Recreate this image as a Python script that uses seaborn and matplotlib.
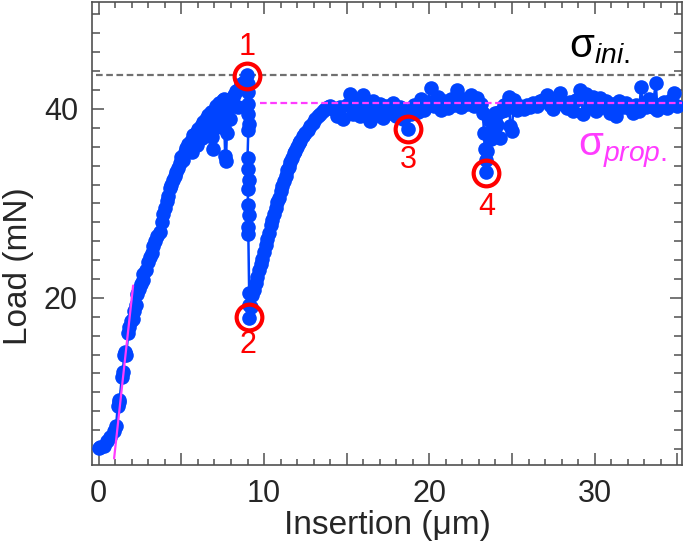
import numpy as np
import pandas as pd
import seaborn as sns
import matplotlib.pyplot as plt
from matplotlib.ticker import MultipleLocator, FuncFormatter

sns.set_style("ticks")
plt.rcParams["font.family"] = ["Liberation Sans", "DejaVu Sans"]
plt.rcParams["mathtext.fontset"] = "custom"
plt.rcParams["mathtext.rm"] = "Liberation Sans"
plt.rcParams["mathtext.it"] = "Liberation Sans:italic"

# loading up to first fracture
rise_x = [0.0, 0.1, 0.3, 0.5, 0.7, 0.9, 1.05, 1.15, 1.2, 1.25, 1.4, 1.45, 1.55, 1.6, 1.65,
          1.8, 1.85, 1.95, 2.05, 2.15, 2.25, 2.3, 2.45, 2.55, 2.65, 2.7, 2.85, 3.0, 3.1, 3.2,
          3.3, 3.4, 3.55, 3.7, 3.8, 3.9, 4.0, 4.1, 4.2, 4.3, 4.4, 4.5, 4.6, 4.7, 4.8, 4.9,
          5.0, 5.1, 5.2, 5.3, 5.4,
          5.5, 5.6, 5.65, 5.7, 5.8, 5.9, 5.95, 6.0, 6.1, 6.2, 6.25, 6.3, 6.4, 6.5, 6.55, 6.6,
          6.7, 6.8, 6.85, 6.9, 6.95, 7.0, 7.1, 7.15, 7.2, 7.3, 7.4, 7.45, 7.5, 7.55, 7.6, 7.65,
          7.7, 7.75, 7.8, 7.9, 7.95, 8.0, 8.1, 8.2, 8.3, 8.4, 8.5, 8.6, 8.7, 8.8, 8.95]
rise_y = [4.1, 4.2, 4.3, 4.8, 5.3, 5.9, 6.4, 8.6, 9.2, 9.0, 11.6, 12.2, 13.9, 14.3, 14.0,
          16.3, 16.9, 17.5, 17.8, 18.6, 19.2, 20.4, 20.9, 21.5, 21.9, 22.5, 22.9, 23.8, 24.3, 24.8,
          25.5, 26.0, 26.6, 27.0, 28.0, 28.9, 29.5, 30.3, 30.8, 31.6, 31.9, 32.5, 32.9, 33.3, 33.7, 34.3,
          34.9, 34.6, 35.4, 35.9, 36.3,
          36.0, 36.6, 35.4, 37.2, 36.8, 37.5, 36.2, 37.9, 37.3, 38.2, 36.9, 38.6, 37.9, 38.9, 37.4, 39.4,
          38.4, 39.7, 37.0, 35.8, 38.5, 39.8, 40.3, 38.1, 39.2, 40.6, 39.8, 38.6, 40.9, 41.1, 38.0, 35.0,
          34.5, 37.5, 40.5, 40.1, 38.9, 41.0, 40.6, 41.5, 41.9, 40.2, 42.1, 42.6, 42.3, 42.9, 43.6]

# load drop at ~9 um
drop_x = [9.0, 9.05, 9.0, 9.05, 9.1, 9.05, 9.0, 9.05, 9.1, 9.05, 9.0, 9.1, 9.05, 9.05, 9.1, 9.1, 9.1]
drop_y = [42.6, 41.8, 40.5, 39.5, 38.4, 37.8, 34.8, 33.6, 32.5, 31.5, 29.8, 28.8, 27.5, 26.8, 20.5, 19.2, 17.9]

# reloading
recover_x = [9.2, 9.3, 9.4, 9.5, 9.6, 9.7, 9.8, 9.9, 10.0, 10.1, 10.2, 10.3, 10.4, 10.5, 10.6,
             10.7, 10.8, 10.9, 11.0, 11.1, 11.2, 11.3, 11.4, 11.5, 11.6, 11.7, 11.8, 11.9, 12.0,
             12.1, 12.2, 12.35, 12.5, 12.65, 12.8, 12.95, 13.1, 13.25, 13.4, 13.55, 13.7, 13.85, 14.0]
recover_y = [19.0, 20.3, 20.8, 21.6, 22.2, 22.9, 23.6, 24.1, 24.9, 25.6, 26.2, 26.9, 27.7, 28.2, 28.9,
             29.5, 30.1, 30.6, 31.3, 31.8, 32.4, 32.9, 33.5, 33.9, 34.4, 34.8, 35.3, 35.6, 36.0,
             36.4, 36.6, 37.1, 37.4, 37.8, 38.2, 38.5, 38.9, 39.2, 39.5, 39.8, 40.0, 40.2, 40.3]

# propagation plateau
plateau_x = [14.2, 14.4, 14.6, 14.8, 15.0, 15.2, 15.4, 15.6, 15.8, 16.0, 16.2, 16.4, 16.6, 16.8,
             17.0, 17.2, 17.4, 17.6, 17.8, 18.0, 18.2, 18.4, 18.6, 18.7, 18.9, 19.1, 19.3, 19.5,
             19.7, 19.9, 20.1, 20.3, 20.5, 20.7, 20.9, 21.1, 21.3, 21.5, 21.7, 21.9, 22.1, 22.3,
             22.5, 22.7, 22.9, 23.1, 23.25, 23.3, 23.35, 23.4, 23.45, 23.5, 23.55, 23.6, 23.7,
             23.8, 23.9, 24.0, 24.1, 24.2, 24.3, 24.4, 24.5, 24.6, 24.7, 24.8, 24.9, 25.0, 25.1,
             25.3, 25.5, 25.7, 25.9, 26.1, 26.3, 26.5, 26.7, 26.9, 27.1, 27.3, 27.5, 27.7, 27.9,
             28.1, 28.3, 28.5, 28.7, 28.9, 29.1, 29.3, 29.5, 29.7, 29.9, 30.1, 30.3, 30.5, 30.7,
             30.9, 31.1, 31.3, 31.5, 31.7, 31.9, 32.1, 32.3, 32.5, 32.7, 32.8, 32.9, 33.1, 33.3,
             33.5, 33.7, 33.8, 34.0, 34.2, 34.4, 34.6, 34.8, 35.0]
plateau_y = [40.0, 39.3, 40.2, 38.9, 40.4, 41.6, 39.5, 40.6, 39.2, 41.5, 40.1, 38.7, 40.8, 39.4,
             40.5, 39.0, 40.3, 39.6, 40.6, 39.2, 40.2, 38.9, 39.8, 37.9, 39.5, 40.4, 39.7, 41.0,
             39.9, 40.7, 42.2, 40.3, 41.3, 39.9, 40.8, 40.1, 41.0, 40.4, 42.0, 40.2, 41.1, 40.5,
             41.5, 40.3, 41.2, 40.5, 39.6, 37.5, 35.8, 34.6, 33.3, 35.5, 37.2, 38.8, 36.8,
             38.9, 37.6, 39.6, 38.3, 39.7, 36.9, 39.8, 40.4, 39.9, 40.3, 41.3, 38.2, 37.7, 40.9,
             39.9, 40.3, 40.0, 40.4, 40.2, 40.6, 40.3, 40.8, 40.9, 41.5, 40.4, 40.0, 40.6, 41.7,
             40.5, 40.1, 40.7, 39.8, 40.9, 42.0, 39.5, 41.6, 40.4, 41.3, 39.8, 41.2, 40.2, 40.8,
             39.6, 40.5, 39.3, 40.8, 40.2, 40.6, 40.1, 39.6, 40.4, 39.8, 42.3, 40.5, 40.2, 41.1,
             40.2, 42.7, 39.9, 40.5, 40.7, 40.1, 40.9, 41.7, 40.3]

# reference levels and elastic fit
sigma_ini = 43.6
sigma_prop = 40.6
fit_x = [0.93, 2.08]
fit_y = [3.0, 21.3]

# marked events
event_labels = ["1", "2", "3", "4"]
event_x = [8.95, 9.1, 18.7, 23.45]
event_y = [43.5, 18.0, 37.9, 33.2]
label_x = [8.95, 9.05, 18.7, 23.45]
label_y = [46.6, 15.0, 34.6, 29.6]

df = pd.DataFrame({
    "x": rise_x + drop_x + recover_x + plateau_x,
    "y": rise_y + drop_y + recover_y + plateau_y,
})

blue = "#0044ff"
fig = plt.figure(figsize=(6.85, 5.51), dpi=100)
ax = fig.add_axes([0.134, 0.156, 0.862, 0.840])

sns.lineplot(data=df, x="x", y="y", sort=False, estimator=None, color=blue, lw=1.8,
             marker="o", markersize=10.5, markeredgewidth=0, ax=ax, zorder=3)

ax.plot([-0.15, 35.5], [sigma_ini, sigma_ini], ls=(0, (3, 1.6)), color="#707070", lw=1.6, zorder=2)
ax.plot([9.75, 35.5], [sigma_prop, sigma_prop], ls=(0, (3, 1.6)), color="#ff3cff", lw=1.6, zorder=4)
ax.plot(fit_x, fit_y, color="#ff3cff", lw=1.6, zorder=4)

ax.plot(event_x, event_y, ls="none", marker="o", markersize=18.5, markerfacecolor="none",
        markeredgecolor="#ff0000", markeredgewidth=3, zorder=5)
for t, lx, ly in zip(event_labels, label_x, label_y):
    ax.text(lx, ly, t, color="#ff0000", fontsize=22, ha="center", va="center")

ax.text(28.45, 45.5, r"σ$_{\mathit{ini.}}$", fontsize=29, color="black", va="baseline")
ax.text(29.0, 35.1, r"σ$_{\mathit{prop.}}$", fontsize=29, color="#ff3cff", va="baseline")

ax.set_xlim(-0.42, 35.3)
ax.set_ylim(2.3, 51.3)
ax.xaxis.set_major_locator(MultipleLocator(5))
ax.xaxis.set_major_formatter(FuncFormatter(lambda v, p: f"{v:.0f}" if v % 10 == 0 else ""))
ax.xaxis.set_minor_locator(MultipleLocator(1))
ax.yaxis.set_major_locator(MultipleLocator(20))
ax.yaxis.set_minor_locator(MultipleLocator(2))
ax.tick_params(which="both", direction="in", top=True, right=True, color="#505050", width=1.1)
ax.tick_params(which="major", length=8.5, labelsize=22, pad=10)
ax.tick_params(axis="x", which="minor", length=4.5)
ax.tick_params(axis="y", which="minor", length=6)
for s in ax.spines.values():
    s.set_color("#505050")
    s.set_linewidth(1.2)

ax.set_xlabel("Insertion (μm)", fontsize=24, labelpad=1)
ax.set_ylabel("Load (mN)", fontsize=24)
ax.yaxis.set_label_coords(-0.098, 0.43)

fig.savefig("out.png", dpi=100)
